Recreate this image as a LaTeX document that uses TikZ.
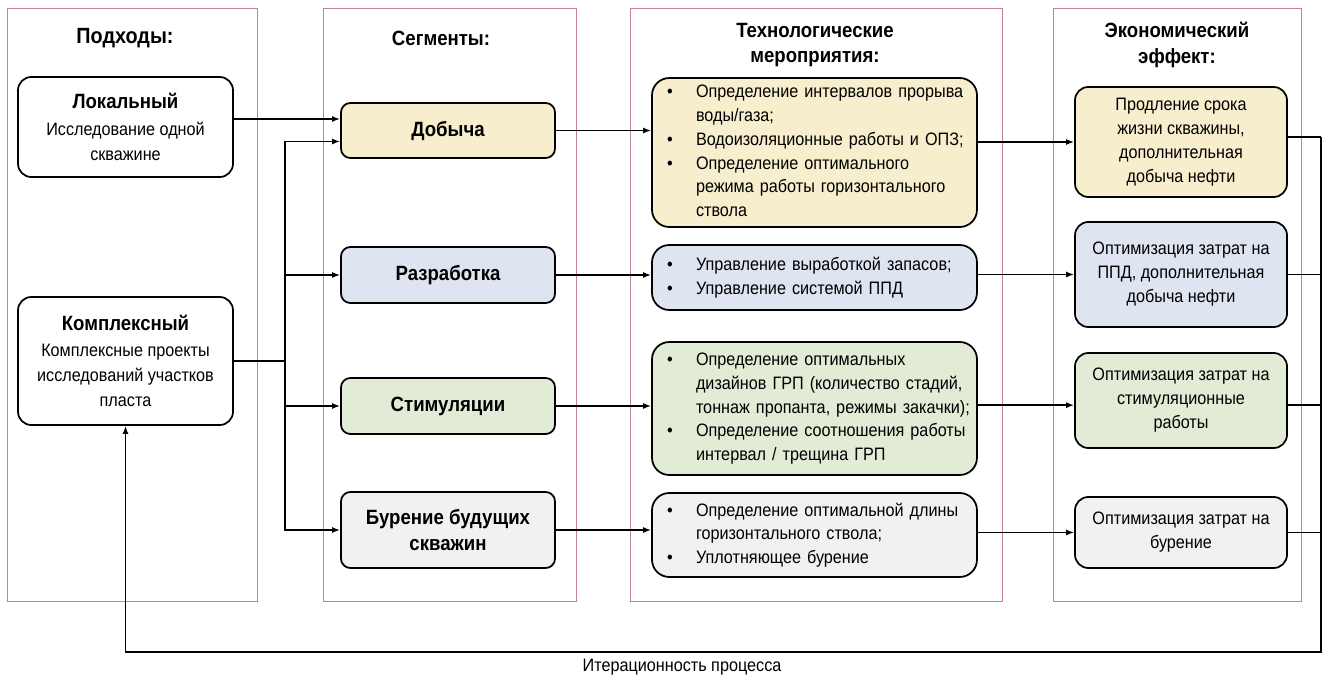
\documentclass[tikz,border=0pt]{standalone}
\usepackage{fontspec}
\setmainfont{Liberation Sans}[FakeStretch=0.9]
\usetikzlibrary{arrows.meta,positioning}

\definecolor{panelc}{RGB}{192,128,158}
\definecolor{yelc}{RGB}{247,238,206}
\definecolor{bluc}{RGB}{222,229,240}
\definecolor{grnc}{RGB}{226,235,214}
\definecolor{gryc}{RGB}{241,241,241}

\begin{document}
\begin{tikzpicture}[x=0.75pt,y=-0.75pt]

    \tikzset{
      panel/.style={draw=panelc, line width=0.6pt},
      head/.style={font=\fontsize{15.5}{19}\selectfont\bfseries, align=center},
      txt/.style={font=\fontsize{13.5}{18}\selectfont},
      box/.style={draw, line width=1.3pt, rounded corners=10pt, align=center, inner sep=0pt},
      appbox/.style={box, fill=white, minimum width=161.25pt, font=\fontsize{13.5}{18.8}\selectfont},
      segbox/.style={box, rounded corners=7pt, minimum width=160.5pt,
        font=\fontsize{15.5}{20}\selectfont\bfseries},
      techbox/.style={box, rounded corners=13pt, text width=221.25pt, inner xsep=11.25pt,
        align=left, font=\fontsize{13.5}{17.8}\selectfont},
      effbox/.style={box, minimum width=159pt, font=\fontsize{13.5}{18}\selectfont},
      conn/.style={line width=1.1pt},
      arr/.style={conn, -{Latex[length=6pt,width=4.5pt]}},
    }
    \useasboundingbox (0,0) rectangle (1328,681);

    % columns
    \draw[panel] (7,8) rectangle (257,601);
    \draw[panel] (323,8) rectangle (576,601);
    \draw[panel] (630,8) rectangle (1002,601);
    \draw[panel] (1053,8) rectangle (1301,601);

    \node[head, font=\fontsize{16.5}{19}\selectfont\bfseries] (h1) at (125,38) {Подходы:};
    \node[head] (h2) at (441,38) {Сегменты:};
    \node[head] (h3) at (815,45) {Технологические\\мероприятия:};
    \node[head] (h4) at (1177,45) {Экономический\\эффект:};

    % approaches
    \node[appbox, minimum height=75pt] (local) at (125.5,127)
      {{\fontsize{15.5}{20}\selectfont\bfseries Локальный}\\[1pt]
       Исследование одной\\скважине};
    \node[appbox, minimum height=96pt] (complex) at (125.5,361)
      {{\fontsize{15.5}{20}\selectfont\bfseries Комплексный}\\[1pt]
       Комплексные проекты\\исследований участков\\пласта};

    % segments
    \node[segbox, fill=yelc, minimum height=41.25pt] (seg1) at (448,130.5) {Добыча};
    \node[segbox, fill=bluc, minimum height=42pt] (seg2) at (448,275) {Разработка};
    \node[segbox, fill=grnc, minimum height=42pt] (seg3) at (448,406) {Стимуляции};
    \node[segbox, fill=gryc, minimum height=57pt] (seg4) at (448,530) {Бурение будущих\\скважин};

    % measures
    \node[techbox, fill=yelc, minimum height=111.75pt] (tech1) at (814.5,152.5)
      {\begin{tabular}{@{}p{21.75pt}@{}l@{}}
       \textbullet & Определение интервалов прорыва\\
                   & воды/газа;\\
       \textbullet & Водоизоляционные работы и ОПЗ;\\
       \textbullet & Определение оптимального\\
                   & режима работы горизонтального\\
                   & ствола
       \end{tabular}};
    \node[techbox, fill=bluc, minimum height=48.75pt] (tech2) at (814.5,277.5)
      {\begin{tabular}{@{}p{21.75pt}@{}l@{}}
       \textbullet & Управление выработкой запасов;\\
       \textbullet & Управление системой ППД
       \end{tabular}};
    \node[techbox, fill=grnc, minimum height=99.75pt] (tech3) at (814.5,408.5)
      {\begin{tabular}{@{}p{21.75pt}@{}l@{}}
       \textbullet & Определение оптимальных\\
                   & дизайнов ГРП (количество стадий,\\
                   & тоннаж пропанта, режимы закачки);\\
       \textbullet & Определение соотношения работы\\
                   & интервал / трещина ГРП
       \end{tabular}};
    \node[techbox, fill=gryc, minimum height=63pt] (tech4) at (814.5,535)
      {\begin{tabular}{@{}p{21.75pt}@{}l@{}}
       \textbullet & Определение оптимальной длины\\
                   & горизонтального ствола;\\
       \textbullet & Уплотняющее бурение
       \end{tabular}};

    % effect
    \node[effbox, fill=yelc, minimum height=82.5pt] (eff1) at (1181,142)
      {Продление срока\\жизни скважины,\\дополнительная\\добыча нефти};
    \node[effbox, fill=bluc, minimum height=78.75pt] (eff2) at (1181,274.5)
      {Оптимизация затрат на\\ППД, дополнительная\\добыча нефти};
    \node[effbox, fill=grnc, minimum height=71.25pt] (eff3) at (1181,400.5)
      {Оптимизация затрат на\\стимуляционные\\работы};
    \node[effbox, fill=gryc, minimum height=53.25pt] (eff4) at (1181,532.5)
      {Оптимизация затрат на\\бурение};

    % connectors
    \coordinate (jn) at (285,361);
    \coordinate (fb) at (1321,652);
    \draw[arr] ([yshift=6pt]local.east) coordinate (lq) -- (lq -| seg1.west);
    \draw[conn] (complex.east) -- (jn);
    \draw[arr] (jn) |- ([yshift=-8.25pt]seg1.west);
    \draw[arr] (jn) |- (seg2.west);
    \draw[arr] (jn) |- (seg3.west);
    \draw[arr] (jn) |- (seg4.west);

    \draw[arr] (seg1.east) -- (seg1.east -| tech1.west);
    \draw[arr] (seg2.east) -- (seg2.east -| tech2.west);
    \draw[arr] (seg3.east) -- (seg3.east -| tech3.west);
    \draw[arr] (seg4.east) -- (seg4.east -| tech4.west);

    \draw[arr] (eff1.west -| tech1.east) -- (eff1.west);
    \draw[arr] (eff2.west -| tech2.east) -- (eff2.west);
    \path ([yshift=-3.5pt]eff3.west) coordinate (e3);
    \draw[arr] (e3 -| tech3.east) -- (e3);
    \draw[arr] (eff4.west -| tech4.east) -- (eff4.west);

    \draw[conn] ([yshift=3.75pt]eff1.east) coordinate (r1) -- (r1 -| fb);
    \draw[conn] (eff2.east) -- (eff2.east -| fb);
    \draw[conn] ([yshift=-3.5pt]eff3.east) coordinate (r3) -- (r3 -| fb);
    \draw[conn] (eff4.east) -- (eff4.east -| fb);
    \draw[arr, line width=1.4pt] (r1 -| fb) -- (fb) -| (complex.south);

    \node[txt] (iter) at (682,667) {Итерационность процесса};

\end{tikzpicture}
\end{document}
